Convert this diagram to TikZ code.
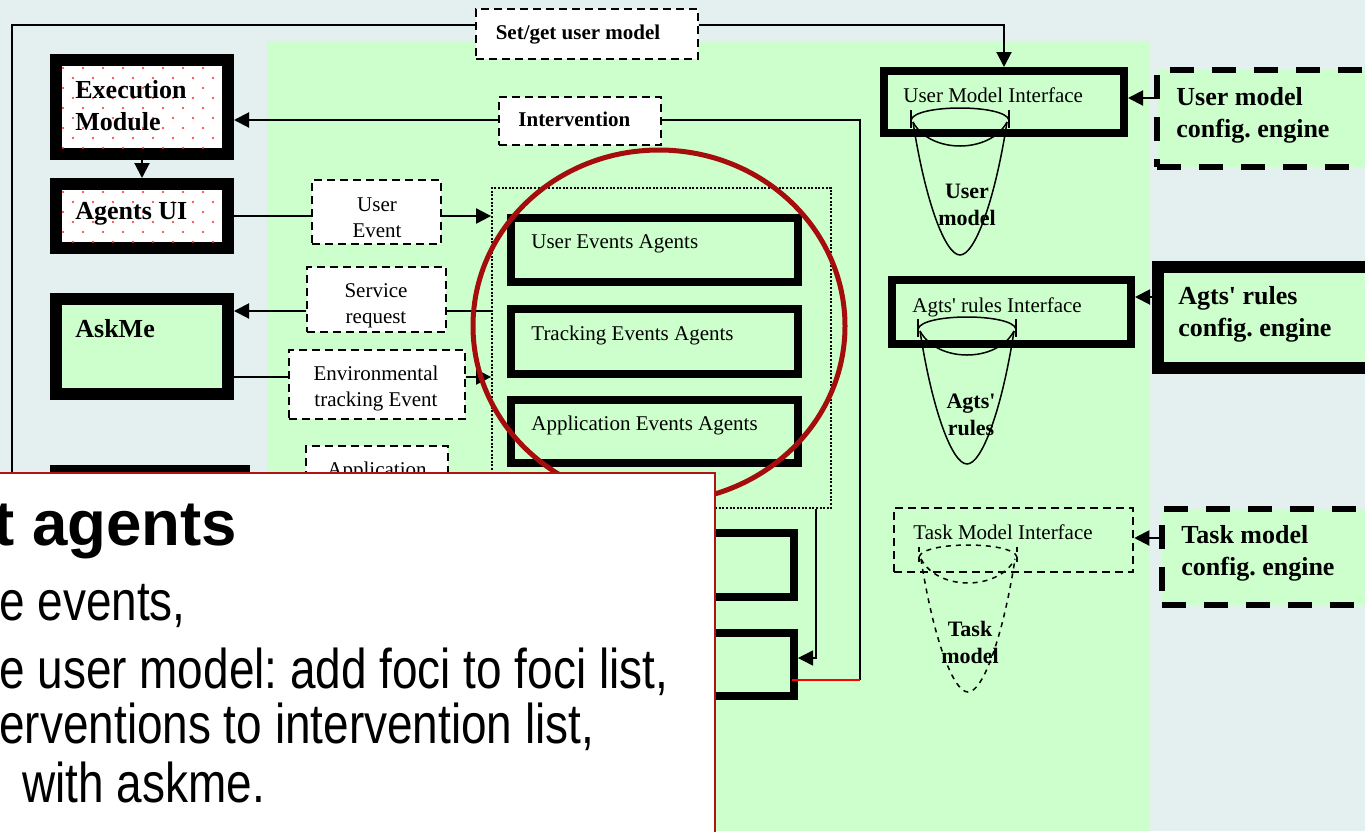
\documentclass[tikz,border=0pt]{standalone}
\usepackage{fontspec}
\setmainfont{Liberation Serif}
\newfontfamily\arialf{Liberation Sans}
\newfontfamily\narrowf[FakeStretch=0.82]{Liberation Sans}
\usetikzlibrary{arrows.meta,fit,calc}
\definecolor{bgc}{RGB}{228,240,240}
\definecolor{grn}{RGB}{204,255,204}
\definecolor{dred}{RGB}{165,12,12}
\definecolor{ovred}{RGB}{175,20,20}
\definecolor{dotred}{RGB}{255,40,40}
\frenchspacing
\tikzset{
  bigbox/.style={draw=black, line width=6pt, fill=grn, inner sep=0pt},
  agbox/.style={draw=black, line width=4pt, fill=grn, inner sep=0pt},
  evbox/.style={draw=black, line width=1.25pt, dash pattern=on 4pt off 2.5pt, fill=white, inner sep=0pt},
  cfgd/.style={draw=black, line width=2.75pt, dash pattern=on 12pt off 9pt, fill=grn, inner sep=0pt},
  ln/.style={draw=black, line width=1pt},
  arr/.style={ln, -{Triangle[length=7.5pt,width=7.5pt]}},
  tb/.style={font=\fontsize{13pt}{16pt}\selectfont\bfseries, inner sep=0pt, align=left},
  tcfg/.style={font=\fontsize{13pt}{16pt}\selectfont\bfseries, inner sep=0pt, align=left},
  ts/.style={font=\fontsize{10.5pt}{13pt}\selectfont, inner sep=0pt, align=center},
  tsb/.style={font=\fontsize{10.5pt}{13pt}\selectfont\bfseries, inner sep=0pt, align=center},
  tcone/.style={font=\fontsize{11pt}{13.5pt}\selectfont\bfseries, inner sep=0pt, align=center},
  ovtitle/.style={font=\arialf\fontsize{31.8pt}{34pt}\selectfont\bfseries, inner sep=0pt},
  ovbody/.style={font=\narrowf\fontsize{28pt}{30pt}\selectfont, inner sep=0pt},
  cone/.pic={
    \draw[line width=0.75pt] (-49,0) -- (-49,18) (49,0) -- (49,18);
    \draw[line width=0.75pt] (-49,10) .. controls (-45,-6) and (45,-6) .. (49,10);
    \draw[line width=0.75pt] (-47,12) .. controls (-30,44) and (30,44) .. (47,12);
    \draw[line width=0.75pt] (-47,12) .. controls (-35,90) and (-15,145) .. (0,145) .. controls (15,145) and (35,90) .. (47,12);
  }
}
\begin{document}
\begin{tikzpicture}[x=0.5pt,y=-0.5pt]
\useasboundingbox (0,0) rectangle (1365,831);
\fill[bgc] (0,0) rectangle (1365,831);
\fill[grn] (267,41) rectangle (1150,831);

% ---------- left column ----------
\node[fit={(56,60) (228,154)}, bigbox, fill=white] (exec) {};
\begin{scope}
  \clip (62,66) rectangle (222,148);
  \foreach \j in {0,...,8} \foreach \i in {-1,...,8}
    \fill[dotred] ({63+20*\i+10*mod(\j,2)},{68+10*\j}) circle (0.6pt);
\end{scope}
\node[tb, anchor=north west] (t-exec) at (75,80) {Execution\\Module};

\node[fit={(56,184) (228,248)}, bigbox, fill=white] (aui) {};
\begin{scope}
  \clip (62,190) rectangle (222,242);
  \foreach \j in {0,...,5} \foreach \i in {-1,...,8}
    \fill[dotred] ({63+20*\i+10*mod(\j,2)},{192+10*\j}) circle (0.6pt);
\end{scope}
\node[tb, anchor=north west] (t-aui) at (75,202) {Agents UI};

\node[fit={(56,299) (228,394)}, bigbox] (askme) {};
\node[tb, anchor=north west] (t-askme) at (75,319) {AskMe};

\node[fit={(56,471) (244,640)}, bigbox] (hid) {};

% ---------- event boxes ----------
\node[fit={(312,180) (441,244)}, evbox] (uev) {};
\node[ts, anchor=north] (t-uev) at (377,197) {User\\Event};
\node[fit={(307,267) (446,332)}, evbox] (sreq) {};
\node[ts, anchor=north] (t-sreq) at (376,283) {Service\\request};
\node[fit={(289,350) (465,419)}, evbox] (env) {};
\node[ts, anchor=north] (t-env) at (376,366) {Environmental\\tracking Event};
\node[fit={(306,446) (448,540)}, evbox] (app) {};
\node[ts, anchor=north] (t-app) at (377,462) {Application};

\node[fit={(476,9) (698,59)}, evbox] (setget) {};
\node[tsb, anchor=north] (t-setget) at (578,25) {Set/get user model};
\node[fit={(499,97) (661,145)}, evbox] (interv) {};
\node[tsb, anchor=north west] (t-interv) at (518,112) {Intervention};

% ---------- agents container ----------
\node[fit={(492,188) (831,508)}, draw, line width=0.9pt, dash pattern=on 1pt off 0.8pt, inner sep=0pt] (cont) {};
\node[fit={(511,218) (798,282)}, agbox] (uea) {};
\node[ts, anchor=north west] (t-uea) at (531,234) {User Events Agents};
\node[fit={(511,309) (798,374)}, agbox] (tea) {};
\node[ts, anchor=north west] (t-tea) at (531,326) {Tracking Events Agents};
\node[fit={(511,400) (798,463)}, agbox] (aea) {};
\node[ts, anchor=north west] (t-aea) at (531,416) {Application Events Agents};
\node[fit={(511,533) (794,597)}, agbox] (b4) {};
\node[fit={(511,633) (794,696)}, agbox] (b5) {};

% ---------- right column ----------
\node[fit={(884,71) (1124,133)}, agbox] (umi) {};
\node[ts, anchor=north west] (t-umi) at (903,87) {User Model Interface};
\pic at (960,110) {cone};
\node[tcone, anchor=north] (t-um) at (967,184) {User\\model};

\node[fit={(892,280) (1131,344)}, agbox] (ari) {};
\node[ts, anchor=north west] (t-ari) at (912,297) {Agts\textquotesingle{} rules Interface};
\pic at (967,319) {cone};
\node[tcone, anchor=north] (t-ar) at (971,394) {Agts\textquotesingle\\rules};

\node[fit={(894,508) (1133,572)}, evbox, fill=grn] (tmi) {};
\node[ts, anchor=north west] (t-tmi) at (913,524) {Task Model Interface};
\pic[dash pattern=on 2.5pt off 2.5pt] at (968,547) {cone};
\node[tcone, anchor=north] (t-tm) at (970,621) {Task\\model};

\node[fit={(1157,70) (1400,167)}, cfgd] (umc) {};
\node[tcfg, anchor=north west] (t-umc) at (1176,87) {User model\\config. engine};
\node[fit={(1158,267) (1400,368)}, bigbox] (arc) {};
\node[tcfg, anchor=north west] (t-arc) at (1178,286) {Agts\textquotesingle{} rules\\config. engine};
\node[fit={(1162,509) (1400,605)}, cfgd] (tmc) {};
\node[tcfg, anchor=north west] (t-tmc) at (1181,525) {Task model\\config. engine};

% ---------- connectors ----------
\coordinate (fr) at (12,600);
\draw[ln] (fr) |- (setget.west |- 0,25);
\draw[arr] (setget.east |- 0,25) -| (umi.north);
\draw[arr] (interv.west |- 0,120) -- (exec.east |- 0,120);
\coordinate (ivc) at (860,680);
\draw[ln, line width=0.7pt] (interv.east |- 0,120) -| (ivc);
\draw[red, line width=0.8pt] (ivc) -- ($(b5.east |- ivc)+(-6,0)$);
\draw[arr] (exec.south) -- (aui.north);
\draw[ln] (aui.east) -- (aui.east -| uev.west);
\draw[arr] (uev.east |- aui.east) -- (cont.west |- aui.east);
\draw[ln] (cont.west |- 0,311) -- (sreq.east |- 0,311);
\draw[arr] (sreq.west |- 0,311) -- (askme.east |- 0,311);
\draw[ln] (askme.east |- 0,377) -- (env.west |- 0,377);
\draw[arr] (env.east |- 0,377) -- (cont.west |- 0,377);
\draw[arr, line width=0.7pt] (cont.south -| 816,0) |- (b5.east |- 0,658);
\draw[arr] (umc.west |- 0,98) -- (umi.east |- 0,98);
\draw[arr] (arc.west |- 0,297) -- (ari.east |- 0,297);
\draw[arr] (tmc.west |- 0,538) -- (tmi.east |- 0,538);

% ---------- red highlight ----------
\draw[dred, line width=2.5pt] (659,326) ellipse [x radius=93pt, y radius=88pt];

% ---------- overlay slide text ----------
\node[fit={(-20,473) (715,900)}, draw=ovred, line width=1pt, fill=white, inner sep=0pt] (ovl) {};
\node[ovtitle, anchor=base west] (o1) at (-7,545) {t agents};
\node[ovbody, anchor=base west] (o2) at (-1,620) {e events,};
\node[ovbody, anchor=base west] (o3) at (-1,688) {e user model: add foci to foci list,};
\node[ovbody, anchor=base west] (o4) at (-1,743) {erventions to intervention list,};
\node[ovbody, anchor=base west] (o5) at (22,802) {with askme.};
\end{tikzpicture}
\end{document}
